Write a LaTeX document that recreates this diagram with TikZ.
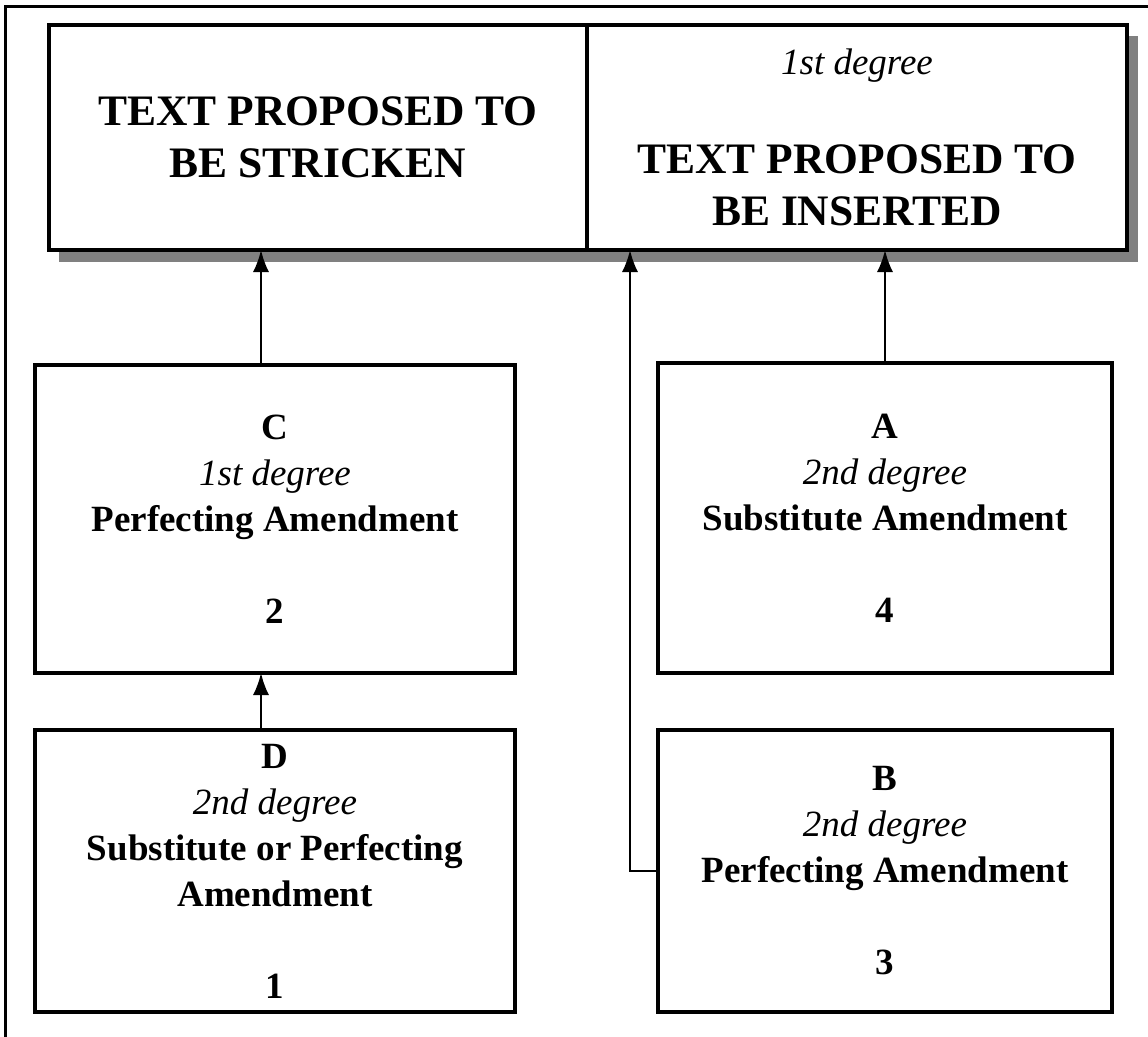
\documentclass[tikz,border=0pt]{standalone}
\usepackage{fontspec}
\setmainfont{Liberation Serif}
\usetikzlibrary{arrows.meta}
\tikzset{
  box/.style={draw=black, line width=3.2pt, rectangle, inner sep=0pt, outer sep=0pt, align=center,
    font=\bfseries\fontsize{37}{46}\selectfont, fill=white},
  topbox/.style={box, font=\bfseries\fontsize{43.5}{52}\selectfont, minimum height=225pt},
  arr/.style={line width=2pt, -{Latex[length=22pt,width=16pt]}},
  frame/.style={line width=3pt, black}
}
\begin{document}
\begin{tikzpicture}[x=1pt,y=-1pt]
\useasboundingbox (0,0) rectangle (1148,1036);
\draw[frame] (5,1040) -- (5,6) -- (1150,6);
% shadow of the top box
\fill[gray] (59,36) rectangle (1138,262);
\node[topbox, minimum width=538pt] (strick) at (318,137.5) {TEXT PROPOSED TO\\BE STRICKEN};
\node[topbox, minimum width=540pt] (insert) at (857,137.5)
  {{\mdseries\itshape\fontsize{37}{52}\selectfont 1st degree}\\[47pt]TEXT PROPOSED TO\\BE INSERTED};
% lower boxes
\node[box, minimum width=480pt, minimum height=308pt] (C) at (275,519)
  {C\\\textit{\mdseries 1st degree}\\Perfecting Amendment\\[46pt]2};
\node[box, minimum width=454pt, minimum height=310pt] (A) at (885,518)
  {A\\\textit{\mdseries 2nd degree}\\Substitute Amendment\\[46pt]4};
\node[box, minimum width=480pt, minimum height=282pt] (D) at (275,871)
  {D\\\textit{\mdseries 2nd degree}\\Substitute or Perfecting\\Amendment\\[46pt]1};
\node[box, minimum width=454pt, minimum height=282pt] (B) at (885,871)
  {B\\\textit{\mdseries 2nd degree}\\Perfecting Amendment\\[46pt]3};
% connectors
\draw[arr] ([xshift=-14pt]C.north) -- ([xshift=-14pt]C.north |- strick.south);
\draw[arr] (A.north) -- (A.north |- insert.south);
\draw[arr] ([xshift=-14pt]D.north) -- ([xshift=-14pt]D.north |- C.south);
\coordinate (bjoint) at (630,871);
\draw[arr] (B.west) -- (bjoint) -- (bjoint |- insert.south);
\end{tikzpicture}
\end{document}
